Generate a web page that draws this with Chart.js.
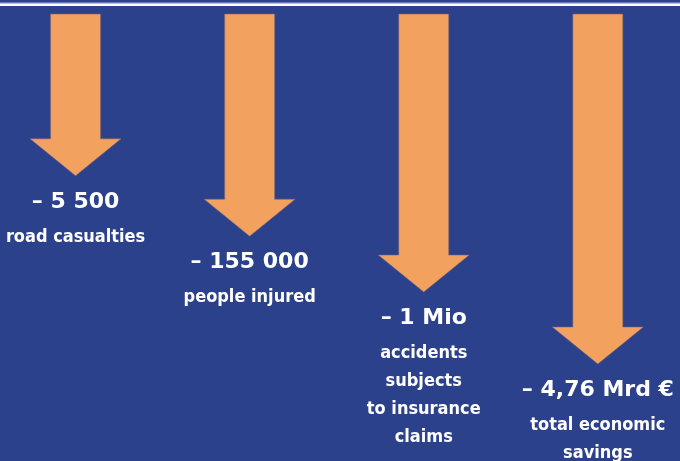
<!DOCTYPE html>
<html>
<head>
<meta charset="utf-8">
<script src="https://cdn.jsdelivr.net/npm/chart.js@4.4.1/dist/chart.umd.min.js"></script>
<style>
  html, body { margin: 0; padding: 0; background: #2b418c; }
  #wrap { width: 680px; height: 461px; position: relative; }
</style>
</head>
<body>
<div id="wrap"><canvas id="chart"></canvas></div>
<script>
// what each arrow stands for
const categories = ["road casualties", "people injured", "accidents subjects to insurance claims", "total economic savings"];
// reduction figures (for reference) and their printed labels
const reductions = [5500, 155000, 1000000, 4760000000];
const valueLabels = ["\u2013 5 500", "\u2013 155 000", "\u2013 1 Mio", "\u2013 4,76 Mrd \u20ac"];
const descLines = [
  ["road casualties"],
  ["people injured"],
  ["accidents", "subjects", "to insurance", "claims"],
  ["total economic", "savings"]
];
// arrow depth, % of plot height
const arrowDepth = [36.2, 49.7, 62.2, 78.3];

const BG = "#2b418c";
const ORANGE = "#f3a15e";

const arrowPlugin = {
  id: "arrows",
  beforeDraw(chart) {
    const { ctx, width, height } = chart;
    ctx.save();
    ctx.fillStyle = BG;
    ctx.fillRect(0, 0, width, height);
    // white rule at the top
    ctx.fillStyle = "#aab4d8";
    ctx.fillRect(0, 2.5, width, 1);
    ctx.fillStyle = "#ffffff";
    ctx.fillRect(0, 3.5, width, 2.5);
    ctx.restore();
  },
  afterDatasetsDraw(chart) {
    const { ctx } = chart;
    const meta = chart.getDatasetMeta(0);
    const headW = 91, headH = 37;
    meta.data.forEach((bar, i) => {
      const x = bar.x, top = bar.base, tip = bar.y;
      const sw = bar.width / 2, hw = headW / 2;
      const neck = tip - headH;
      ctx.save();
      ctx.beginPath();
      ctx.moveTo(x - sw, top);
      ctx.lineTo(x + sw, top);
      ctx.lineTo(x + sw, neck);
      ctx.lineTo(x + hw, neck);
      ctx.lineTo(x, tip);
      ctx.lineTo(x - hw, neck);
      ctx.lineTo(x - sw, neck);
      ctx.closePath();
      ctx.fillStyle = ORANGE;
      ctx.fill();
      ctx.strokeStyle = "rgba(120, 100, 120, 0.55)";
      ctx.lineWidth = 1;
      ctx.stroke();

      // labels under the tip
      ctx.fillStyle = "#ffffff";
      ctx.textAlign = "center";
      ctx.textBaseline = "alphabetic";
      ctx.font = "bold 22px 'DejaVu Sans', sans-serif";
      const vy = tip + 32;
      ctx.fillText(valueLabels[i], x, vy);
      ctx.font = "bold 18px 'DejaVu Sans Condensed', 'Liberation Sans Narrow', sans-serif";
      descLines[i].forEach((line, k) => {
        ctx.fillText(line, x, vy + 34 + k * 28);
      });
      ctx.restore();
    });
  }
};

new Chart(document.getElementById("chart"), {
  type: "bar",
  data: {
    datasets: [{
      label: "reduction",
      data: arrowDepth.map((d, i) => ({ x: i, y: d })),
      backgroundColor: "rgba(0,0,0,0)",
      borderWidth: 0,
      barThickness: 50
    }]
  },
  options: {
    responsive: true,
    maintainAspectRatio: false,
    animation: false,
    layout: { padding: { top: 14, bottom: 0, left: 0, right: 0 } },
    scales: {
      x: {
        type: "linear",
        offset: false,
        min: -0.434,
        max: 3.472,
        display: false,
        ticks: { callback: (v) => categories[v] || "" }
      },
      y: {
        reverse: true,
        min: 0,
        max: 100,
        display: false
      }
    },
    plugins: {
      legend: { display: false },
      tooltip: { enabled: false }
    }
  },
  plugins: [arrowPlugin]
});
</script>
</body>
</html>
